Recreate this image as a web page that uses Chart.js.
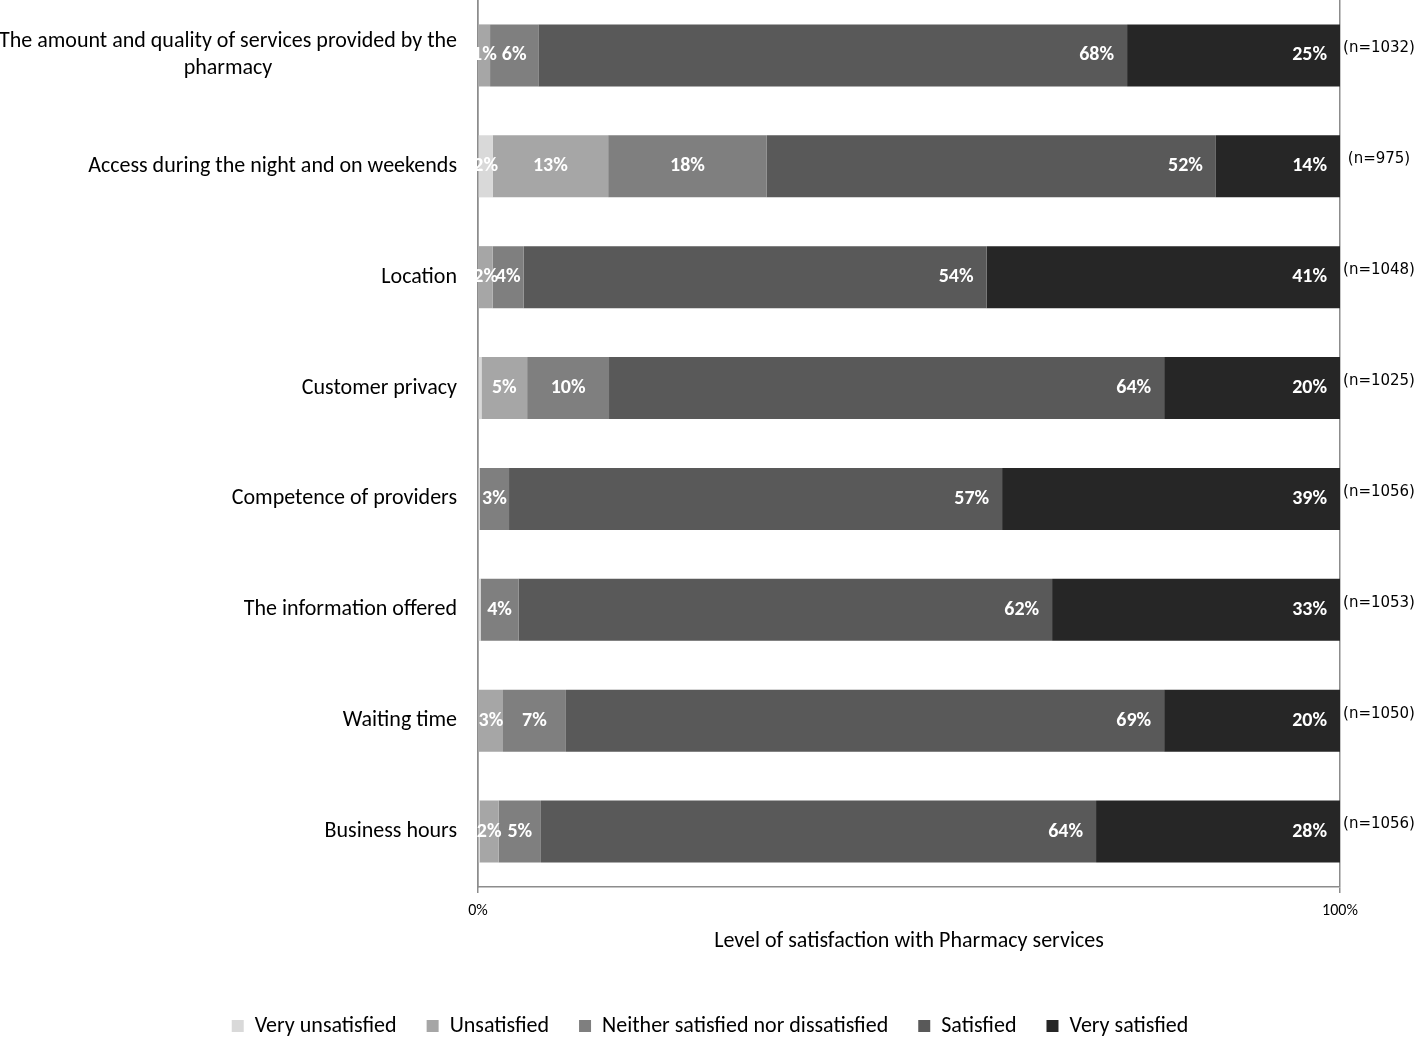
<!DOCTYPE html>
<html>
<head>
<meta charset="utf-8">
<script src="https://cdn.jsdelivr.net/npm/chart.js@4/dist/chart.umd.min.js"></script>
<style>
  html, body { margin: 0; padding: 0; background: #fff; }
  #wrap { width: 1418px; height: 1037px; }
</style>
</head>
<body>
<div id="wrap"><canvas id="satisfactionChart"></canvas></div>
<script>
// categories, top to bottom
const categories = [
    ['The amount and quality of services provided by the', 'pharmacy'],
    'Access during the night and on weekends',
    'Location',
    'Customer privacy',
    'Competence of providers',
    'The information offered',
    'Waiting time',
    'Business hours'
];
const sampleSizes = ['(n=1032)', '(n=975)', '(n=1048)', '(n=1025)', '(n=1056)', '(n=1053)', '(n=1050)', '(n=1056)'];

// percentages
const veryUnsatisfied = [0, 1.7, 0, 0.4, 0.2, 0.3, 0, 0.2];
const unsatisfied = [1.4, 13.4, 1.7, 5.3, 0, 0, 2.9, 2.2];
const neither = [5.6, 18.4, 3.6, 9.5, 3.4, 4.4, 7.3, 4.9];
const satisfied = [68.3, 52.1, 53.7, 64.4, 57.2, 61.9, 69.4, 64.4];
const verySatisfied = [24.7, 14.4, 41.0, 20.4, 39.2, 33.4, 20.4, 28.3];

const xTicks = [0, 100];

const fontFamily = 'Carlito, Lato, "Open Sans", sans-serif';

// white % labels inside the segments
const segmentLabels = {
    id: 'segmentLabels',
    afterDatasetsDraw(chart) {
        const ctx = chart.ctx;
        ctx.save();
        ctx.font = 'bold 20px ' + fontFamily;
        ctx.fillStyle = '#ffffff';
        ctx.textBaseline = 'middle';
        chart.data.datasets.forEach((ds, di) => {
            const meta = chart.getDatasetMeta(di);
            meta.data.forEach((bar, i) => {
                const v = ds.data[i];
                if (v < 1) return;
                const text = Math.round(v) + '%';
                if (di >= 3) {
                    ctx.textAlign = 'right';
                    ctx.fillText(text, bar.x - 13, bar.y);
                } else {
                    ctx.textAlign = 'center';
                    ctx.fillText(text, (bar.x + bar.base) / 2, bar.y);
                }
            });
        });
        ctx.restore();
    }
};

// category names on the left and n= on the right
const sideTexts = {
    id: 'sideTexts',
    afterLayout(chart) {
        // legend row sits a bit right of the canvas centre
        chart.legend.left += 40;
        chart.legend.right += 40;
    },
    afterDraw(chart) {
        const ctx = chart.ctx;
        const yScale = chart.scales.y;
        const area = chart.chartArea;
        ctx.save();
        ctx.fillStyle = '#000000';
        ctx.textBaseline = 'middle';
        ctx.font = '22px ' + fontFamily;
        categories.forEach((label, i) => {
            const y = yScale.getPixelForTick(i);
            const right = area.left - 21;
            if (Array.isArray(label)) {
                const w = Math.max(...label.map(l => ctx.measureText(l).width));
                ctx.textAlign = 'center';
                const lh = 27;
                label.forEach((line, k) => {
                    ctx.fillText(line, right - w / 2, y + (k - (label.length - 1) / 2) * lh);
                });
            } else {
                ctx.textAlign = 'right';
                ctx.fillText(label, right, y);
            }
        });
        ctx.font = '15px "DejaVu Sans", sans-serif';
        ctx.textAlign = 'center';
        sampleSizes.forEach((n, i) => {
            const y = yScale.getPixelForTick(i);
            ctx.fillText(n, area.right + 39, y - 7);
        });
        ctx.restore();
    }
};

const ctx = document.getElementById('satisfactionChart').getContext('2d');

new Chart(ctx, {
    type: 'bar',
    data: {
        labels: categories,
        datasets: [
            { label: 'Very unsatisfied', data: veryUnsatisfied, backgroundColor: '#d9d9d9' },
            { label: 'Unsatisfied', data: unsatisfied, backgroundColor: '#a6a6a6' },
            { label: 'Neither satisfied nor dissatisfied', data: neither, backgroundColor: '#7f7f7f' },
            { label: 'Satisfied', data: satisfied, backgroundColor: '#595959' },
            { label: 'Very satisfied', data: verySatisfied, backgroundColor: '#262626' }
        ]
    },
    options: {
        indexAxis: 'y',
        responsive: true,
        maintainAspectRatio: false,
        animation: false,
        categoryPercentage: 1,
        barPercentage: 0.56,
        layout: {
            padding: { left: 0, right: 78, top: 0, bottom: -10 }
        },
        scales: {
            x: {
                stacked: true,
                min: 0,
                max: 100,
                afterBuildTicks: scale => {
                    scale.ticks = xTicks.map(v => ({ value: v }));
                },
                afterFit: scale => { scale.height = 98; },
                ticks: {
                    padding: 8,
                    color: '#000000',
                    font: { family: fontFamily, size: 16 },
                    callback: v => v + '%'
                },
                grid: {
                    color: '#8c8c8c',
                    lineWidth: 1.5,
                    tickLength: 6
                },
                border: { display: true, color: '#8c8c8c', width: 1.5 },
                title: {
                    display: true,
                    text: 'Level of satisfaction with Pharmacy services',
                    color: '#000000',
                    font: { family: fontFamily, size: 22 },
                    padding: { top: 0, bottom: 30 }
                }
            },
            y: {
                stacked: true,
                afterFit: scale => { scale.width = 478; },
                ticks: { display: false },
                grid: { display: false },
                border: { display: true, color: '#8c8c8c', width: 1.5 }
            }
        },
        plugins: {
            legend: {
                position: 'bottom',
                labels: {
                    color: '#000000',
                    boxWidth: 12,
                    boxHeight: 12,
                    padding: 30,
                    font: { family: fontFamily, size: 22 }
                }
            },
            tooltip: { enabled: false }
        }
    },
    plugins: [segmentLabels, sideTexts]
});
</script>
</body>
</html>
